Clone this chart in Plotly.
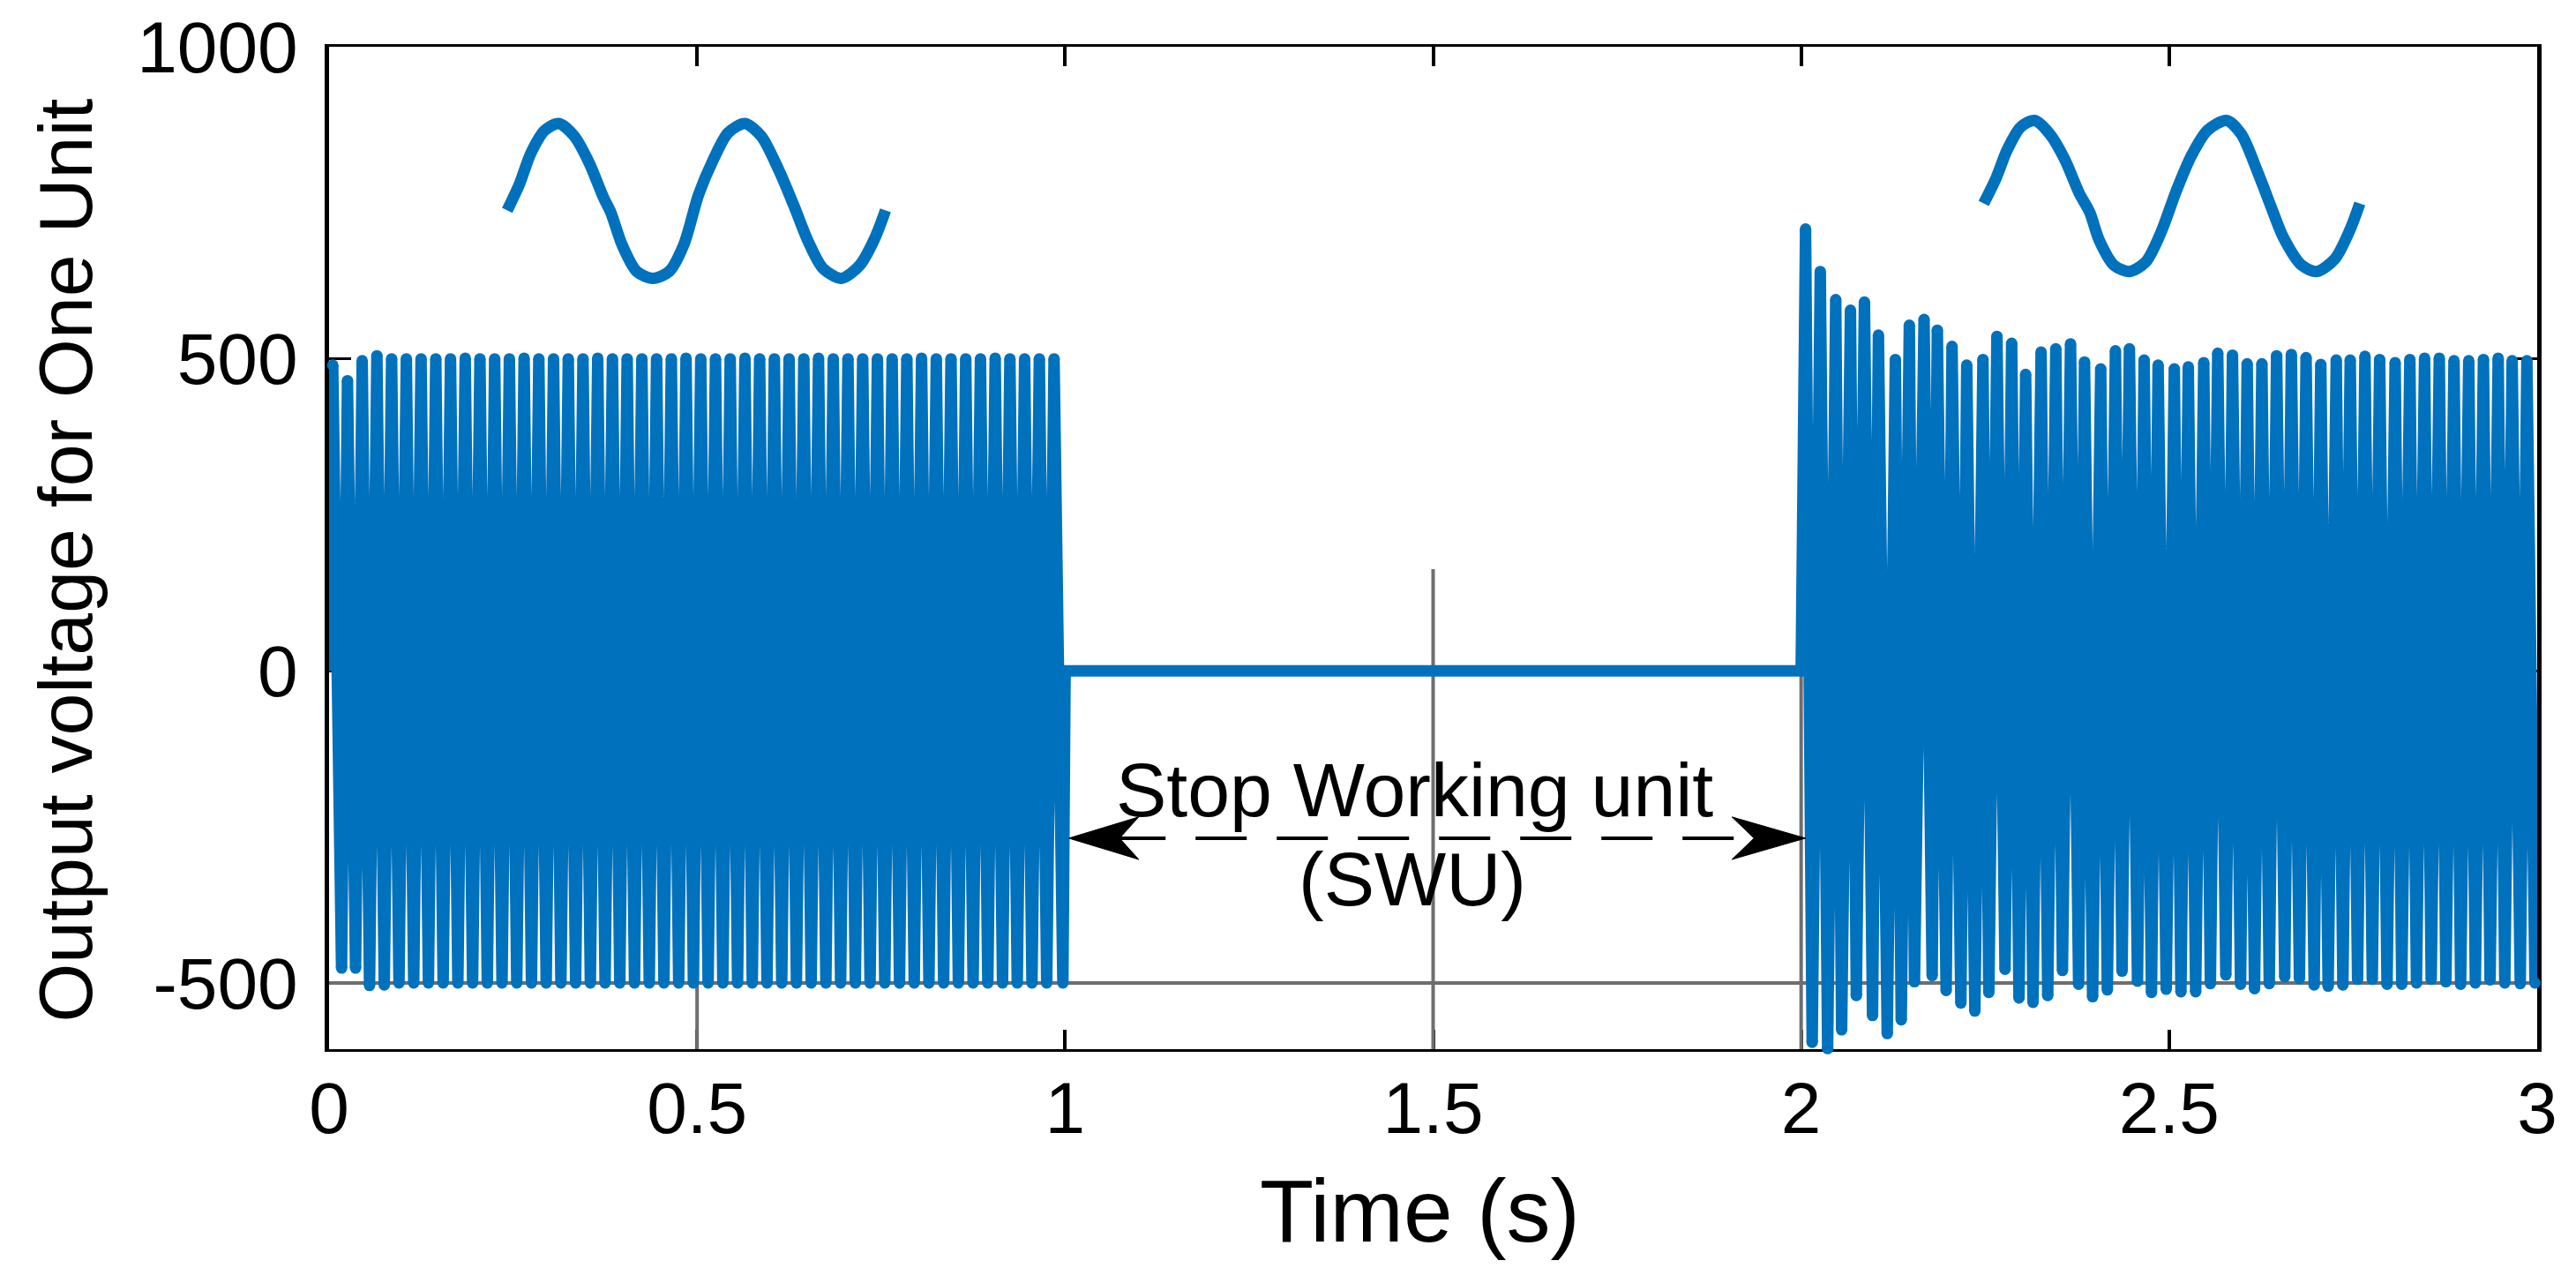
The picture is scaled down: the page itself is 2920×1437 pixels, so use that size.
import plotly.graph_objects as go

BLUE = "#0071BC"
GRID = "#6e6e6e"

# --- first running section: envelope -----------------------------------------
top_t_1 = [0.005,0.025,0.045,0.065,0.085,0.105,0.125,0.145,0.165,0.185,0.205,0.225,0.245,0.265,0.285,0.305,0.325,0.345,0.365,0.385,0.405,0.425,0.445,0.465,0.485,0.505,0.525,0.545,0.565,0.585,0.605,0.625,0.645,0.665,0.685,0.705,0.725,0.745,0.765,0.785,0.805,0.825,0.845,0.865,0.885,0.905,0.925,0.945,0.965,0.985]
top_v_1 = [490,465,497,505,500,500,500,500,500,501,500,500,500,501,500,500,500,500,501,500,500,500,500,500,501,500,500,500,501,500,500,500,500,501,500,500,500,500,500,500,501,500,500,500,500,501,500,500,500,500]
bot_t_1 = [0.017,0.036,0.055,0.075,0.095,0.115,0.135,0.155,0.175,0.195,0.215,0.235,0.255,0.275,0.295,0.315,0.335,0.355,0.375,0.395,0.415,0.435,0.455,0.475,0.495,0.515,0.535,0.555,0.575,0.595,0.615,0.635,0.655,0.675,0.695,0.715,0.735,0.755,0.775,0.795,0.815,0.835,0.855,0.875,0.895,0.915,0.935,0.955,0.975,0.997]
bot_v_1 = [-476,-476,-504,-503,-500,-500,-500,-500,-500,-500,-500,-500,-500,-500,-500,-500,-500,-500,-500,-500,-500,-500,-500,-500,-500,-500,-500,-500,-500,-500,-500,-500,-500,-500,-500,-500,-500,-500,-500,-500,-500,-500,-500,-500,-500,-500,-500,-500,-500,-500]

# --- second running section (restart transient) ------------------------------
top_t_2 = [2.006,2.026,2.047,2.067,2.086,2.105,2.128,2.147,2.167,2.185,2.205,2.225,2.247,2.266,2.286,2.305,2.326,2.346,2.366,2.385,2.407,2.427,2.446,2.466,2.485,2.507,2.526,2.547,2.566,2.586,2.606,2.626,2.646,2.666,2.686,2.706,2.727,2.746,2.766,2.786,2.807,2.827,2.847,2.867,2.887,2.907,2.927,2.947,2.966,2.986]
top_v_2 = [708,640,595,578,591,538,499,554,563,546,520,490,499,536,525,475,511,516,524,495,484,513,516,498,490,484,487,494,509,506,492,492,505,507,502,491,498,498,504,499,494,499,501,501,497,497,499,501,497,497]
bot_t_2 = [2.015,2.036,2.055,2.075,2.097,2.117,2.136,2.154,2.178,2.197,2.217,2.236,2.255,2.277,2.296,2.315,2.335,2.355,2.377,2.396,2.416,2.436,2.457,2.476,2.496,2.516,2.536,2.556,2.577,2.597,2.616,2.636,2.657,2.677,2.697,2.716,2.736,2.756,2.776,2.796,2.816,2.836,2.856,2.876,2.896,2.916,2.936,2.956,2.977,2.997]
bot_v_2 = [-595,-605,-575,-520,-552,-581,-559,-498,-488,-512,-532,-545,-515,-478,-524,-531,-520,-480,-502,-522,-511,-481,-497,-515,-510,-514,-514,-501,-487,-502,-509,-501,-490,-493,-503,-505,-503,-494,-494,-502,-502,-500,-494,-498,-502,-500,-495,-500,-501,-500]

# --- hand-drawn looking sine insets -----------------------------------------
sine1_t = [0.242,0.259,0.274,0.293,0.312,0.333,0.353,0.373,0.383,0.398,0.418,0.440,0.462,0.482,0.502,0.522,0.542,0.565,0.587,0.612,0.632,0.651,0.671,0.696,0.721,0.741,0.756]
sine1_v = [738,781,829,866,877,857,815,758,734,683,640,629,640,683,763,819,862,877,857,800,744,688,645,629,650,692,738]
sine2_t = [2.248,2.265,2.280,2.298,2.317,2.338,2.358,2.378,2.392,2.405,2.425,2.446,2.468,2.488,2.510,2.530,2.552,2.578,2.598,2.620,2.638,2.655,2.680,2.701,2.725,2.745,2.759]
sine2_v = [749,790,835,871,882,860,820,765,735,690,650,640,655,700,770,825,866,882,860,800,745,695,650,640,660,705,749]

# --- dashed SWU arrow -------------------------------------------------------
arrow_y = -268
dash_t = [1.067, 1.936]
head_left_t = [1.005, 1.100, 1.074, 1.100, 1.005]
head_right_t = [2.006, 1.906, 1.936, 1.906, 2.006]
head_v = [-268, -234, -268, -302, -268]

x_ticks = [0, 0.5, 1, 1.5, 2, 2.5, 3]
x_labels = ["0", "0.5", "1", "1.5", "2", "2.5", "3"]
y_ticks = [-500, 0, 500, 1000]
y_labels = ["-500", "0", "500", "1000"]

Y_MIN, Y_MAX = -606, 1000

def zigzag(ts, vs, tb, vb):
    out_t, out_v = [], []
    for a, b, c, d in zip(ts, vs, tb, vb):
        out_t += [a, c]
        out_v += [b, d]
    return out_t, out_v

t1, v1 = zigzag(top_t_1, top_v_1, bot_t_1, bot_v_1)
t2, v2 = zigzag(top_t_2, top_v_2, bot_t_2, bot_v_2)
wave_t = [0] + t1 + [1.0, 2.0] + t2 + [3.0]
wave_v = [0] + v1 + [0, 0] + v2 + [-60]

fig = go.Figure()
LINE = dict(mode="lines", hoverinfo="skip", showlegend=False, cliponaxis=False)

# partial grid lines
for gx, gv in [([1.5, 1.5], [Y_MIN, 163]), ([2, 2], [Y_MIN, 0]),
               ([0.5, 0.5], [Y_MIN, -480]), ([0, 3], [-500, -500])]:
    fig.add_trace(go.Scatter(x=gx, y=gv, line=dict(color=GRID, width=4), **LINE))

fig.add_trace(go.Scatter(x=wave_t, y=wave_v,
                         line=dict(color=BLUE, width=13, simplify=False), **LINE))
fig.add_trace(go.Scatter(x=t1 + t2, y=v1 + v2, mode="markers", cliponaxis=False,
                         marker=dict(color=BLUE, size=13, line=dict(width=0)),
                         hoverinfo="skip", showlegend=False))
fig.add_trace(go.Scatter(x=sine1_t, y=sine1_v,
                         line=dict(color=BLUE, width=13, shape="spline", smoothing=0.8), **LINE))
fig.add_trace(go.Scatter(x=sine2_t, y=sine2_v,
                         line=dict(color=BLUE, width=13, shape="spline", smoothing=0.8), **LINE))

fig.add_trace(go.Scatter(x=dash_t, y=[arrow_y, arrow_y],
                         line=dict(color="black", width=4, dash="58px,34px"), **LINE))
for ht in (head_left_t, head_right_t):
    fig.add_trace(go.Scatter(x=ht, y=head_v, mode="lines", fill="toself", fillcolor="black",
                             line=dict(color="black", width=1), hoverinfo="skip", showlegend=False))

FONT = "Liberation Sans"
fig.add_annotation(x=1.475, y=-191, text="Stop Working unit", showarrow=False,
                   font=dict(family=FONT, size=86, color="black"))
fig.add_annotation(x=1.472, y=-333, text="(SWU)", showarrow=False,
                   font=dict(family=FONT, size=86, color="black"))
fig.add_annotation(x=1.482, xanchor="center", yref="paper", y=-0.161, yanchor="middle",
                   text="Time (s)", showarrow=False,
                   font=dict(family=FONT, size=100, color="black"))
fig.add_annotation(xref="paper", x=-0.1195, xanchor="center", yref="paper", y=0.488, yanchor="middle",
                   textangle=-90, text="Output voltage for One Unit", showarrow=False,
                   font=dict(family=FONT, size=86, color="black"))

fig.update_xaxes(range=[0, 3], tickmode="array", tickvals=x_ticks, ticktext=x_labels,
                 ticks="inside", ticklen=22, tickwidth=4, tickcolor="black",
                 showline=True, linecolor="black", linewidth=3, mirror="ticks",
                 showgrid=False, zeroline=False, layer="below traces",
                 ticklabelstandoff=-6, ticklabeloverflow="allow",
                 tickfont=dict(family=FONT, size=82, color="black"))
fig.update_yaxes(range=[Y_MIN, Y_MAX], tickmode="array", tickvals=y_ticks, ticktext=y_labels,
                 ticks="inside", ticklen=25, tickwidth=3, tickcolor="black",
                 showline=True, linecolor="black", linewidth=5, mirror="ticks",
                 showgrid=False, zeroline=False, layer="below traces",
                 ticklabelstandoff=14, ticklabeloverflow="allow",
                 tickfont=dict(family=FONT, size=82, color="black"))
fig.update_layout(width=2912, height=1429, paper_bgcolor="white", plot_bgcolor="white",
                  margin=dict(l=365, r=44, t=45, b=248, autoexpand=False),
                  showlegend=False)
fig.write_html("out.html", config=dict(displayModeBar=False))
